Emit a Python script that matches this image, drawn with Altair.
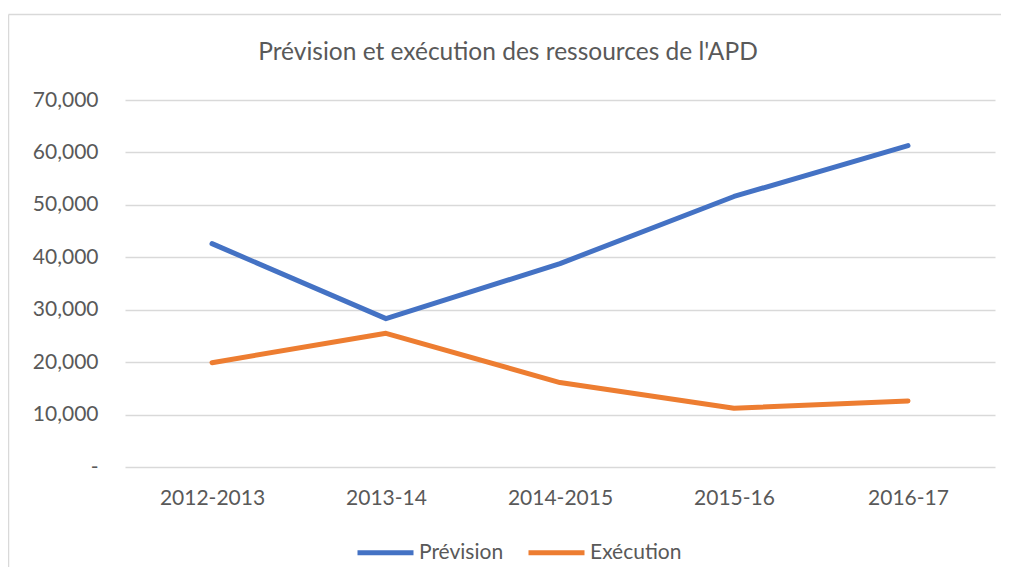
import altair as alt
import pandas as pd

categories = ["2012-2013", "2013-14", "2014-2015", "2015-16", "2016-17"]
prevision = [42600, 28300, 38800, 51600, 61300]
execution = [19900, 25500, 16100, 11200, 12600]
series_names = ["Prévision", "Exécution"]
colors = ["#4472C4", "#ED7D31"]
y_ticks = [0, 10000, 20000, 30000, 40000, 50000, 60000, 70000]
title_text = "Prévision et exécution des ressources de l'APD"

FONT = "Lato"
TXT = "#595959"
BORDER = "#d9d9d9"

df = pd.DataFrame({
    "Année": categories * 2,
    "Valeur": prevision + execution,
    "Série": [series_names[0]] * len(categories) + [series_names[1]] * len(categories),
})

lines = alt.Chart(df).mark_line(strokeWidth=5, strokeCap="round", strokeJoin="round").encode(
    x=alt.X("Année:N", sort=categories,
            scale=alt.Scale(type="point", padding=0.5),
            axis=alt.Axis(title=None, labelAngle=0, ticks=False, domain=False, grid=False,
                          labelPadding=20, labelFontSize=21, labelFont=FONT, labelColor=TXT)),
    y=alt.Y("Valeur:Q", scale=alt.Scale(domain=[0, 70000], nice=False),
            axis=alt.Axis(title=None, values=y_ticks, ticks=False, domain=False,
                          gridColor=BORDER, gridWidth=1.3,
                          labelExpr="datum.value == 0 ? '-' : format(datum.value, ',')",
                          labelPadding=27, labelFontSize=21, labelFont=FONT, labelColor=TXT)),
    color=alt.Color("Série:N", scale=alt.Scale(domain=series_names, range=colors),
                    legend=alt.Legend(title=None, orient="none", direction="horizontal",
                                      legendX=230, legendY=422,
                                      symbolType="stroke", symbolSize=3136, symbolStrokeWidth=5,
                                      labelOffset=3, columnPadding=14,
                                      labelFontSize=21, labelFont=FONT, labelColor=TXT)),
)

one = pd.DataFrame({"a": [0]})
top_border = alt.Chart(one).mark_rule(stroke=BORDER, strokeWidth=1.5).encode(
    x=alt.value(-116.5), x2=alt.value(876), y=alt.value(-85.5)
)
left_border = alt.Chart(one).mark_rule(stroke=BORDER, strokeWidth=1.5).encode(
    x=alt.value(-116.5), y=alt.value(-85.5), y2=alt.value(467)
)
title = alt.Chart(one).mark_text(
    text=title_text, font=FONT, fontSize=24.5, color=TXT, align="center", baseline="alphabetic"
).encode(x=alt.value(383), y=alt.value(-40))

chart = alt.layer(top_border, left_border, title, lines).properties(
    width=870, height=367,
    autosize=alt.AutoSizeParams(type="none"),
    padding={"left": 117, "top": 92, "right": 6, "bottom": 100},
    background="transparent",
).configure_view(stroke=None)

chart.save("out.html", embed_options={"renderer": "svg", "actions": False})
